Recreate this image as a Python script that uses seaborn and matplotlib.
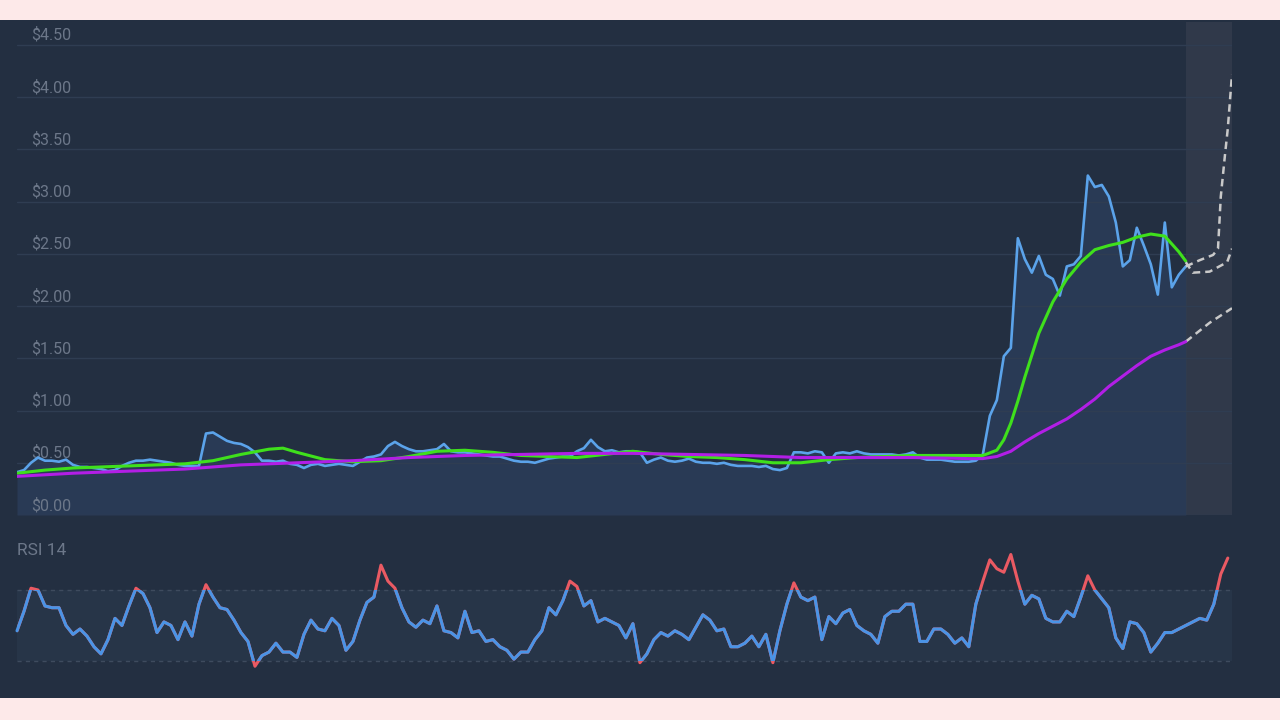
import matplotlib.pyplot as plt
import matplotlib.patches as mpatches
import seaborn as sns
import numpy as np

sns.set_theme(style="dark")
plt.rcParams['font.family'] = ['Roboto', 'DejaVu Sans']

# Price (one value per day step)
price = [
    0.41, 0.43, 0.50, 0.55, 0.52, 0.52, 0.51, 0.53, 0.48, 0.46,
    0.46, 0.45, 0.44, 0.42, 0.43, 0.47, 0.50, 0.52, 0.52, 0.53,
    0.52, 0.51, 0.50, 0.48, 0.47, 0.47, 0.47, 0.78, 0.79, 0.75,
    0.71, 0.69, 0.68, 0.65, 0.60, 0.52, 0.52, 0.51, 0.52, 0.49,
    0.48, 0.45, 0.48, 0.49, 0.47, 0.48, 0.49, 0.48, 0.47, 0.51,
    0.55, 0.56, 0.58, 0.66, 0.70, 0.66, 0.63, 0.61, 0.61, 0.62,
    0.63, 0.68, 0.61, 0.60, 0.60, 0.59, 0.58, 0.57, 0.56, 0.56,
    0.54, 0.52, 0.51, 0.51, 0.50, 0.52, 0.54, 0.55, 0.56, 0.56,
    0.61, 0.64, 0.72, 0.65, 0.61, 0.62, 0.60, 0.61, 0.61, 0.60,
    0.50, 0.53, 0.55, 0.52, 0.51, 0.52, 0.54, 0.51, 0.50, 0.50,
    0.49, 0.50, 0.48, 0.47, 0.47, 0.47, 0.46, 0.47, 0.44, 0.43,
    0.45, 0.60, 0.60, 0.59, 0.61, 0.60, 0.50, 0.59, 0.60, 0.59,
    0.61, 0.59, 0.58, 0.58, 0.58, 0.58, 0.57, 0.58, 0.60, 0.55,
    0.53, 0.53, 0.53, 0.52, 0.51, 0.51, 0.51, 0.52, 0.58, 0.95,
    1.10, 1.52, 1.60, 2.65, 2.45, 2.32, 2.48, 2.30, 2.26, 2.10,
    2.38, 2.40, 2.48, 3.25, 3.14, 3.16, 3.05, 2.80, 2.38, 2.44,
    2.75, 2.58, 2.40, 2.11, 2.80, 2.18, 2.30, 2.38,
]

# Moving averages (day index, value)
ma_fast_idx = [0, 4, 8, 12, 16, 20, 24, 28, 32, 36, 38, 40, 44, 48, 52, 56, 60, 64, 68, 72,
               76, 80, 84, 88, 92, 96, 100, 104, 108, 112, 116, 120, 124, 128, 132, 136, 138,
               140, 141, 142, 143, 144, 146, 148, 150, 152, 154, 156, 158, 160, 162, 164, 166, 167]
ma_fast = [0.40, 0.43, 0.45, 0.46, 0.47, 0.48, 0.49, 0.52, 0.58, 0.63, 0.64, 0.60, 0.53, 0.51,
           0.52, 0.56, 0.61, 0.62, 0.60, 0.57, 0.56, 0.55, 0.58, 0.61, 0.58, 0.56, 0.55, 0.53,
           0.50, 0.50, 0.53, 0.55, 0.56, 0.57, 0.57, 0.57, 0.57, 0.62, 0.72, 0.88, 1.09, 1.32,
           1.74, 2.04, 2.26, 2.42, 2.54, 2.58, 2.61, 2.66, 2.69, 2.67, 2.52, 2.43]

ma_slow_idx = [0, 8, 16, 24, 32, 40, 48, 56, 64, 72, 80, 88, 96, 104, 112, 120, 128, 136, 138,
               140, 142, 144, 146, 148, 150, 152, 154, 156, 158, 160, 162, 164, 166, 167]
ma_slow = [0.37, 0.40, 0.42, 0.44, 0.48, 0.50, 0.52, 0.55, 0.57, 0.58, 0.59, 0.59, 0.58, 0.57,
           0.55, 0.55, 0.55, 0.54, 0.54, 0.56, 0.61, 0.70, 0.78, 0.85, 0.92, 1.01, 1.11, 1.23,
           1.33, 1.43, 1.52, 1.58, 1.63, 1.66]

# Forecast paths
fc_slow_idx = [167, 170.4, 173.6]
fc_slow = [1.66, 1.84, 1.98]
fc_high_idx = [167, 169, 170.9, 171.6, 172, 172.6, 173, 173.6]
fc_high = [2.38, 2.44, 2.49, 2.55, 3.05, 3.45, 3.70, 4.22]
fc_low_idx = [167, 168, 170.4, 172.9, 173.6]
fc_low = [2.42, 2.32, 2.33, 2.42, 2.55]

# RSI 14
rsi = [
    47, 58, 71, 70, 61, 60, 60, 50, 45, 48,
    44, 38, 34, 42, 54, 50, 61, 71, 68, 60,
    46, 52, 50, 42, 52, 44, 62, 73, 66, 60,
    59, 53, 46, 41, 27, 33, 35, 40, 35, 35,
    32, 45, 53, 48, 47, 54, 50, 36, 41, 53,
    63, 66, 84, 75, 71, 60, 52, 49, 53, 51,
    61, 47, 46, 43, 58, 46, 47, 41, 42, 38,
    36, 31, 35, 35, 42, 47, 60, 56, 64, 75,
    72, 61, 64, 52, 54, 52, 50, 43, 51, 29,
    34, 42, 46, 44, 47, 45, 42, 49, 56, 53,
    47, 48, 38, 38, 40, 44, 38, 45, 29, 47,
    62, 74, 66, 64, 66, 42, 55, 51, 57, 59,
    50, 47, 45, 40, 55, 58, 58, 62, 62, 41,
    41, 48, 48, 45, 40, 43, 38, 62, 75, 87,
    82, 80, 90, 75, 62, 67, 65, 54, 52, 52,
    58, 55, 66, 78, 70, 65, 60, 43, 37, 52,
    51, 46, 35, 40, 46, 46, 48, 50, 52, 54,
    53, 62, 79, 88,
]

price_ticks = [0, 0.5, 1.0, 1.5, 2.0, 2.5, 3.0, 3.5, 4.0, 4.5]
price_labels = ["$0.00", "$0.50", "$1.00", "$1.50", "$2.00", "$2.50", "$3.00", "$3.50", "$4.00", "$4.50"]

BG = '#232f41'
FILL = '#293a55'
GRID = '#2f3d52'
TXT = '#6c7789'
BLUE = '#5ba3ea'
GREEN = '#3fe01c'
PURPLE = '#b21ee6'
DASH = '#c9c9c9'
RSI_BLUE = '#4a94e6'
RSI_RED = '#ea5a63'

fig = plt.figure(figsize=(12.8, 7.2), dpi=100)
fig.patch.set_facecolor('#fde9e9')
fig.patches.append(mpatches.Rectangle((0, 22 / 720), 1, 678 / 720, transform=fig.transFigure,
                                      facecolor=BG, edgecolor='none', zorder=-10))

# Price panel
ax = fig.add_axes([17 / 1280, 205 / 720, 1215 / 1280, 493 / 720])
ax.set_facecolor('none')
x = np.arange(len(price))
ax.fill_between(x, price, 0, color=FILL, lw=0, zorder=1)
ax.axvspan(len(price) - 1, 173.6, color='#3b4352', alpha=0.55, lw=0, zorder=1.1)
for t, lab in zip(price_ticks, price_labels):
    ax.axhline(t, color=GRID, lw=1, zorder=1.2)
    ax.annotate(lab, (0.012, t), xycoords=ax.get_yaxis_transform(), xytext=(0, 2),
                textcoords='offset pixels', va='bottom', ha='left', color=TXT, fontsize=11.5)

sns.lineplot(x=x, y=price, ax=ax, color=BLUE, lw=1.9, zorder=3)
sns.lineplot(x=ma_fast_idx, y=ma_fast, ax=ax, color=GREEN, lw=2.2, zorder=4)
sns.lineplot(x=ma_slow_idx, y=ma_slow, ax=ax, color=PURPLE, lw=2.2, zorder=5)
for fi, fv in [(fc_slow_idx, fc_slow), (fc_high_idx, fc_high), (fc_low_idx, fc_low)]:
    sns.lineplot(x=fi, y=fv, ax=ax, color=DASH, lw=1.8, zorder=4)
    ax.lines[-1].set_dashes([3, 2])

ax.set_xlim(0, 173.6)
ax.set_ylim(0, 4.72)
ax.set_xticks([])
ax.set_yticks([])
ax.set_xlabel("")
ax.set_ylabel("")
for s in ax.spines.values():
    s.set_visible(False)

# RSI panel
ax2 = fig.add_axes([17 / 1280, 25 / 720, 1215 / 1280, 160 / 720])
ax2.set_facecolor('none')
ax2.axhspan(30, 70, color='#273548', lw=0, zorder=0.5)
for lvl in (30, 70):
    ax2.axhline(lvl, color='#3e4b5e', lw=1, linestyle=(0, (3, 3)), zorder=1)
xr = np.arange(len(rsi))
sns.lineplot(x=xr, y=rsi, ax=ax2, color=RSI_RED, lw=2.2, zorder=3)
band = mpatches.Rectangle((-5, 30), 200, 40, transform=ax2.transData, facecolor='none',
                          edgecolor='none')
ax2.add_patch(band)
sns.lineplot(x=xr, y=rsi, ax=ax2, color=RSI_BLUE, lw=2.2, zorder=4)
ax2.lines[-1].set_clip_path(band)
ax2.text(0, 0.906, "RSI 14", transform=ax2.transAxes, color=TXT, fontsize=12.5,
         va='center', ha='left')
ax2.set_xlim(0, 173.6)
ax2.set_ylim(10.8, 101)
ax2.set_xticks([])
ax2.set_yticks([])
ax2.set_xlabel("")
ax2.set_ylabel("")
for s in ax2.spines.values():
    s.set_visible(False)

fig.savefig("out.png", dpi=100, facecolor=fig.get_facecolor())
